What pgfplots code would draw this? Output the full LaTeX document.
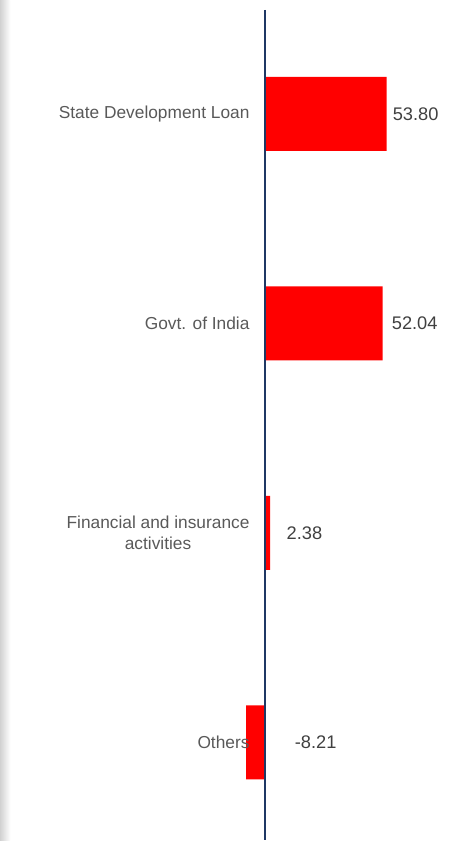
\documentclass[border=0pt]{standalone}
\usepackage{pgfplots}
\pgfplotsset{compat=1.18}
\usepackage{fontspec}
\setmainfont{Liberation Sans}
\definecolor{barred}{RGB}{255,0,0}
\definecolor{axnavy}{RGB}{31,56,100}
\definecolor{catgray}{RGB}{89,89,89}
\definecolor{valgray}{RGB}{64,64,64}
\begin{document}
\begin{tikzpicture}
\begin{axis}[
  scale only axis,
  width=354pt, height=630.75pt,
  xmin=-116.84, xmax=91.27,
  ymin=-0.5436, ymax=3.4669,
  y dir=reverse,
  hide axis,
  clip=false,
  xbar, bar width=0.353,
]
\path (rel axis cs:0,0) rectangle (rel axis cs:1,1);
\path[shade, left color=black!18, right color=white] (rel axis cs:0,0) rectangle (rel axis cs:0.022,1);
\addplot[fill=barred, draw=none] coordinates {(53.80,0) (52.04,1) (2.38,2) (-8.21,3)};
\draw[axnavy, line width=1.3pt] (axis cs:0,-0.496) -- (axis cs:0,3.4669);
\begin{scope}[every node/.style={font=\fontsize{13}{15.6}\selectfont, inner sep=0pt}]
\node[anchor=east, text=catgray, xshift=-11.25pt] at (axis cs:0,0) {State Development Loan};
\node[anchor=east, text=catgray, xshift=-11.25pt] at (axis cs:0,1) {Govt. of India};
\node[anchor=east, text=catgray, xshift=-11.25pt, align=center] at (axis cs:0,2) {Financial and insurance\\activities};
\node[anchor=east, text=catgray, xshift=-11.25pt] at (axis cs:0,3) {Others};
\end{scope}
\begin{scope}[every node/.style={font=\fontsize{13.7}{16.4}\selectfont, inner sep=0pt}]
\node[anchor=west, text=valgray] at (axis cs:56.4,0) {53.80};
\node[anchor=west, text=valgray] at (axis cs:56.0,1) {52.04};
\node[anchor=west, text=valgray] at (axis cs:9.6,2) {2.38};
\node[anchor=west, text=valgray] at (axis cs:13.2,3) {-8.21};
\end{scope}
\end{axis}
\end{tikzpicture}
\end{document}
